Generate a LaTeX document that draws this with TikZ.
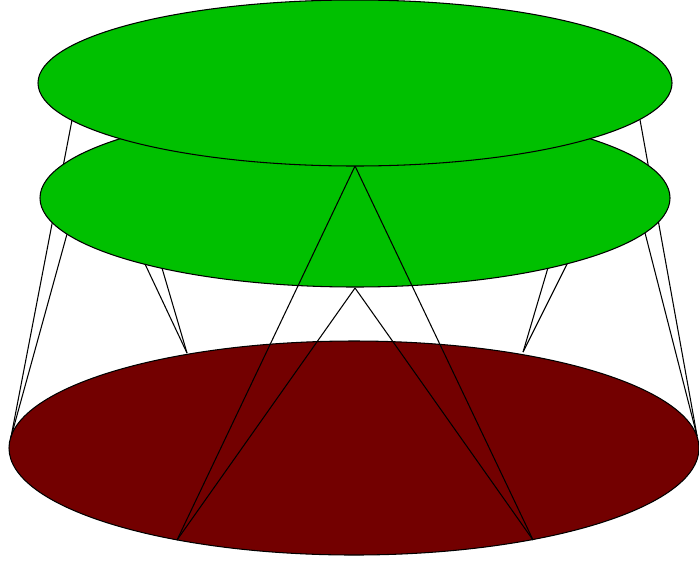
\documentclass[tikz,border=0pt]{standalone}
\definecolor{leafgreen}{RGB}{0,192,0}
\definecolor{soilred}{RGB}{115,0,0}
\begin{document}
\begin{tikzpicture}[scale=0.1, line width=0.3pt]
			\useasboundingbox (0,0) rectangle (69.9,-56.3);
			% rim points of the discs
			\coordinate (bl) at (1.1,-43.7);
			\coordinate (br) at (69.7,-43.6);
			\coordinate (bil) at (18.7,-35.3);
			\coordinate (bir) at (52.3,-35.2);
			\coordinate (bfl) at (17.7,-54.0);
			\coordinate (bfr) at (53.3,-54.0);
			\coordinate (tl) at (7.2,-12.0);
			\coordinate (tr) at (64.0,-12.0);
			\coordinate (til) at (12.4,-13.9);
			\coordinate (tir) at (58.6,-13.9);
			\coordinate (tc) at (35.5,-16.6);
			\coordinate (ml) at (6.7,-23.4);
			\coordinate (mr) at (64.5,-23.3);
			\coordinate (mil) at (14.5,-26.4);
			\coordinate (mir) at (56.7,-26.4);
			\coordinate (mc) at (35.5,-28.8);
			% bottom disc
			\draw [black, fill=soilred] (35.4,-44.8) ellipse (34.5 and 10.7);
			\draw [black] (tl) -- (bl);
			\draw [black] (tr) -- (br);
			\draw [black] (til) -- (bil);
			\draw [black] (tir) -- (bir);
			% middle disc
			\draw [black, fill=leafgreen] (35.5,-19.8) ellipse (31.5 and 8.9);
			\draw [black] (tc) -- (bfl);
			\draw [black] (tc) -- (bfr);
			\draw [black] (ml) -- (bl);
			\draw [black] (mr) -- (br);
			\draw [black] (mil) -- (bil);
			\draw [black] (mir) -- (bir);
			\draw [black] (mc) -- (bfl);
			\draw [black] (mc) -- (bfr);
			% top disc
			\draw [black, fill=leafgreen] (35.5,-8.3) ellipse (31.7 and 8.3);
		\end{tikzpicture}
\end{document}
